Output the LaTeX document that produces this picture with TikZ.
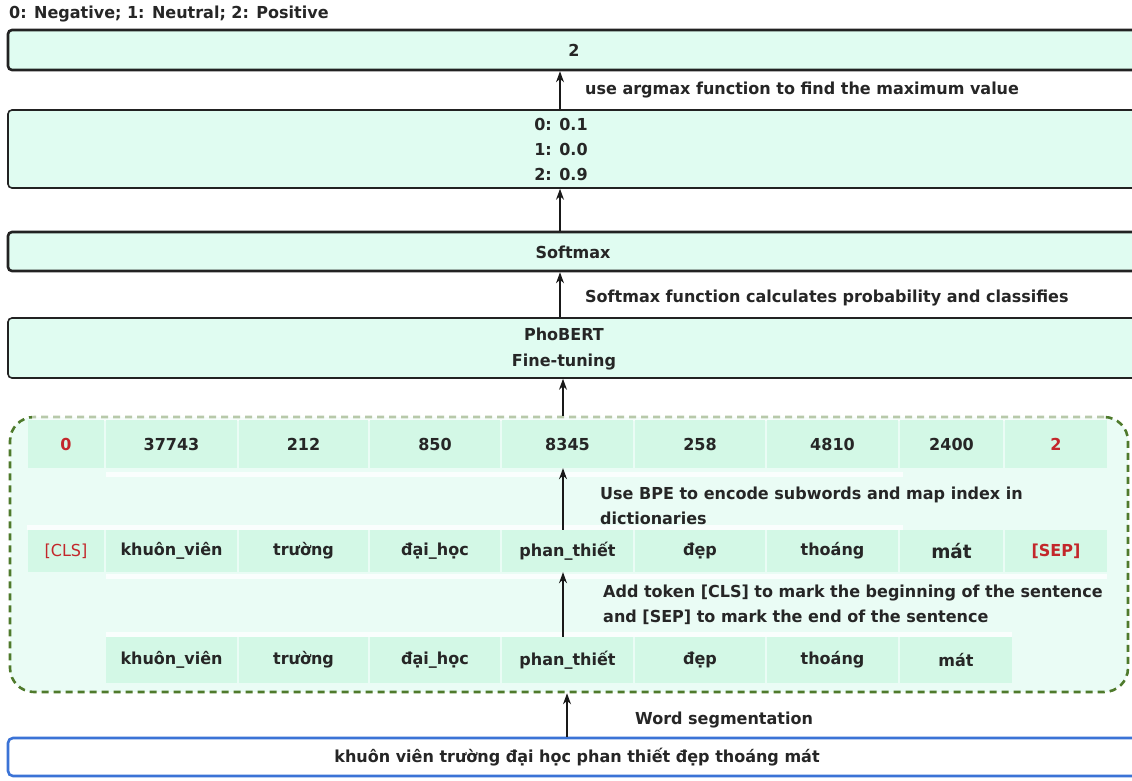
\documentclass[tikz,border=0pt]{standalone}
\usepackage{fontspec}
\setmainfont{DejaVu Sans}[FakeStretch=0.97]
\usetikzlibrary{arrows.meta}
\definecolor{boxfill}{HTML}{E0FCF1}
\definecolor{cellfill}{HTML}{D3F8E6}
\definecolor{regfill}{HTML}{EAFCF5}
\definecolor{dashgreen}{HTML}{4F7A2C}
\definecolor{tokred}{HTML}{C3272B}
\definecolor{inblue}{HTML}{3B73D6}
\definecolor{boxline}{HTML}{222222}
\newcommand\mycell[6]{%
  \node[cellbox, minimum width={#3-#2}, minimum height=#5, text=#6] (#1) at ({(#2+#3)/2},#4) {};}
\begin{document}
\begin{tikzpicture}[x=1pt,y=-1pt,
  font=\bfseries\fontsize{16.5}{25}\selectfont,
  bigbox/.style={draw=boxline, fill=boxfill, rounded corners=4pt, inner sep=0pt},
  cellbox/.style={fill=cellfill, draw=none, inner sep=0pt},
  lbl/.style={inner sep=0pt, text=black!85},
  arr/.style={-{Stealth[length=11pt,width=8pt]}, line width=1.2pt, draw=black!90},
  region/.style={draw=dashgreen, fill=regfill, dashed, dash pattern=on 7pt off 5pt, line width=2.6pt, rounded corners=24pt, inner sep=0pt}]
\useasboundingbox (0,0) rectangle (1132,780);
\fill[white] (0,0) rectangle (1132,780);

% title
\node[lbl, anchor=west] (title) at (9,14) {0: Negative; 1: Neutral; 2: Positive};

% output box
\node[bigbox, line width=2.6pt, minimum width=1140, minimum height=40] (out) at (578,50) {};
\node[lbl] (outtxt) at (574,50) {2};

% probability box
\node[bigbox, line width=1.6pt, minimum width=1140, minimum height=78] (prob) at (578,149) {};
\node[lbl, align=center] (probtxt) at (561,149) {0: 0.1\\1: 0.0\\2: 0.9};

% softmax
\node[bigbox, line width=2.6pt, minimum width=1140, minimum height=39] (soft) at (578,251.5) {};
\node[lbl] (softtxt) at (573,252) {Softmax};

% phobert
\node[bigbox, line width=1.6pt, minimum width=1140, minimum height=60] (pho) at (578,348) {};
\node[lbl, align=center, font=\bfseries\fontsize{16.5}{26}\selectfont] (photxt) at (564,349) {PhoBERT\\Fine-tuning};

% region
\node[region, minimum width=1118, minimum height=275] (reg) at (569,554.5) {};
\fill[white, opacity=0.6] (32,413) rectangle (1106,421);

% light strips
\fill[white, opacity=0.8] (106,472) rectangle (903,477);
\fill[white, opacity=0.8] (27,525) rectangle (903,530);
\fill[white, opacity=0.8] (106,574) rectangle (1107,579);
\fill[white, opacity=0.8] (106,632) rectangle (1012,637);

% row 1
\mycell{a0}{28}{104}{444}{48}{tokred}
\node[lbl, text=tokred] at (a0) {0};
\mycell{a1}{106}{237}{444}{48}{black!85}
\node[lbl] at (a1) {37743};
\mycell{a2}{239}{368}{444}{48}{black!85}
\node[lbl] at (a2) {212};
\mycell{a3}{370}{500}{444}{48}{black!85}
\node[lbl] at (a3) {850};
\mycell{a4}{502}{633}{444}{48}{black!85}
\node[lbl] at (a4) {8345};
\mycell{a5}{635}{765}{444}{48}{black!85}
\node[lbl] at (a5) {258};
\mycell{a6}{767}{898}{444}{48}{black!85}
\node[lbl] at (a6) {4810};
\mycell{a7}{900}{1003}{444}{48}{black!85}
\node[lbl] at (a7) {2400};
\mycell{a8}{1005}{1107}{444}{48}{tokred}
\node[lbl, text=tokred] at (a8) {2};

% row 2
\mycell{b0}{28}{104}{551}{42}{tokred}
\node[lbl, text=tokred, font=\fontsize{16.5}{25}\selectfont] at (b0) {[CLS]};
\mycell{b1}{106}{237}{551}{42}{black}
\node[lbl] at (b1) {khuôn\_viên};
\mycell{b2}{239}{368}{551}{42}{black}
\node[lbl] at (b2) {trường};
\mycell{b3}{370}{500}{551}{42}{black}
\node[lbl] at (b3) {đại\_học};
\mycell{b4}{502}{633}{551}{42}{black}
\node[lbl] at (b4) {phan\_thiết};
\mycell{b5}{635}{765}{551}{42}{black}
\node[lbl] at (b5) {đẹp};
\mycell{b6}{767}{898}{551}{42}{black}
\node[lbl] at (b6) {thoáng};
\mycell{b7}{900}{1003}{551}{42}{black}
\node[lbl, font=\bfseries\fontsize{19}{25}\selectfont] at (b7) {mát};
\mycell{b8}{1005}{1107}{551}{42}{tokred}
\node[lbl, text=tokred] at (b8) {[SEP]};

% row 3
\mycell{c1}{106}{237}{660}{46}{black}
\node[lbl] at (c1) {khuôn\_viên};
\mycell{c2}{239}{368}{660}{46}{black}
\node[lbl] at (c2) {trường};
\mycell{c3}{370}{500}{660}{46}{black}
\node[lbl] at (c3) {đại\_học};
\mycell{c4}{502}{633}{660}{46}{black}
\node[lbl] at (c4) {phan\_thiết};
\mycell{c5}{635}{765}{660}{46}{black}
\node[lbl] at (c5) {đẹp};
\mycell{c6}{767}{898}{660}{46}{black}
\node[lbl] at (c6) {thoáng};
\mycell{c7}{900}{1012}{660}{46}{black}
\node[lbl] at (c7) {mát};

% input box
\node[draw=inblue, fill=white, line width=2.6pt, rounded corners=5pt, inner sep=0pt, minimum width=1140, minimum height=38] (inp) at (578,757) {};
\node[lbl] (inptxt) at (577,757) {khuôn viên trường đại học phan thiết đẹp thoáng mát};

% labels
\node[lbl, anchor=west] (l1) at (585,90) {use argmax function to find the maximum value};
\node[lbl, anchor=west] (l2) at (585,298) {Softmax function calculates probability and classifies};
\node[lbl, anchor=west, align=left] (l3) at (600,505.5) {Use BPE to encode subwords and map index in\\dictionaries};
\node[lbl, anchor=west, align=left] (l4) at (603,605) {Add token [CLS] to mark the beginning of the sentence\\and [SEP] to mark the end of the sentence};
\node[lbl, anchor=west] (l5) at (635,720) {Word segmentation};

% arrows
\coordinate (xa) at (560,0);
\coordinate (xb) at (563,0);
\coordinate (xc) at (567,0);
\draw[arr] (prob.north -| xa) -- (out.south -| xa);
\draw[arr] (soft.north -| xa) -- (prob.south -| xa);
\draw[arr] (pho.north -| xa) -- (soft.south -| xa);
\draw[arr] (reg.north -| xb) -- (pho.south -| xb);
\draw[arr] (b4.north -| xb) -- (a4.south -| xb);
\draw[arr] (c4.north -| xb) -- (b4.south -| xb);
\draw[arr] (inp.north -| xc) -- (reg.south -| xc);
\end{tikzpicture}
\end{document}
